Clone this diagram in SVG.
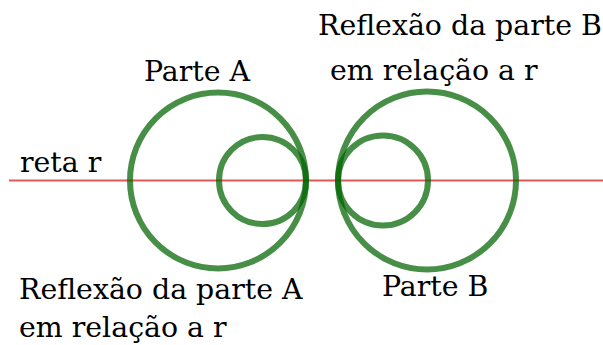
<svg xmlns="http://www.w3.org/2000/svg" width="603" height="345" viewBox="0 0 603 345">
<style>
text{font-family:"DejaVu Serif",serif;font-size:28.4px;fill:#000}
.c{fill:none;stroke:#006400;stroke-opacity:0.72;stroke-width:6}
.r{stroke:#d42020;stroke-opacity:0.75;stroke-width:2}
</style>
<rect width="603" height="345" fill="#fff"/>
<g id="connectors">
<line class="r" x1="9" y1="180.5" x2="603" y2="180.5"/>
</g>
<g id="parteA">
<circle class="c" cx="218" cy="180.5" r="88"/>
<circle class="c" cx="262.5" cy="180.5" r="43.5"/>
</g>
<g id="parteB">
<circle class="c" cx="427" cy="180.5" r="89"/>
<circle class="c" cx="383" cy="180.5" r="45"/>
</g>
<g id="labels">
<text x="144" y="81">Parte A</text>
<text x="20" y="172">reta r</text>
<text x="19" y="299">Reflexão da parte A</text>
<text x="19" y="337">em relação a r</text>
<text x="318" y="35">Reflexão da parte B</text>
<text x="330" y="80">em relação a r</text>
<text x="382" y="296">Parte B</text>
</g>
</svg>
